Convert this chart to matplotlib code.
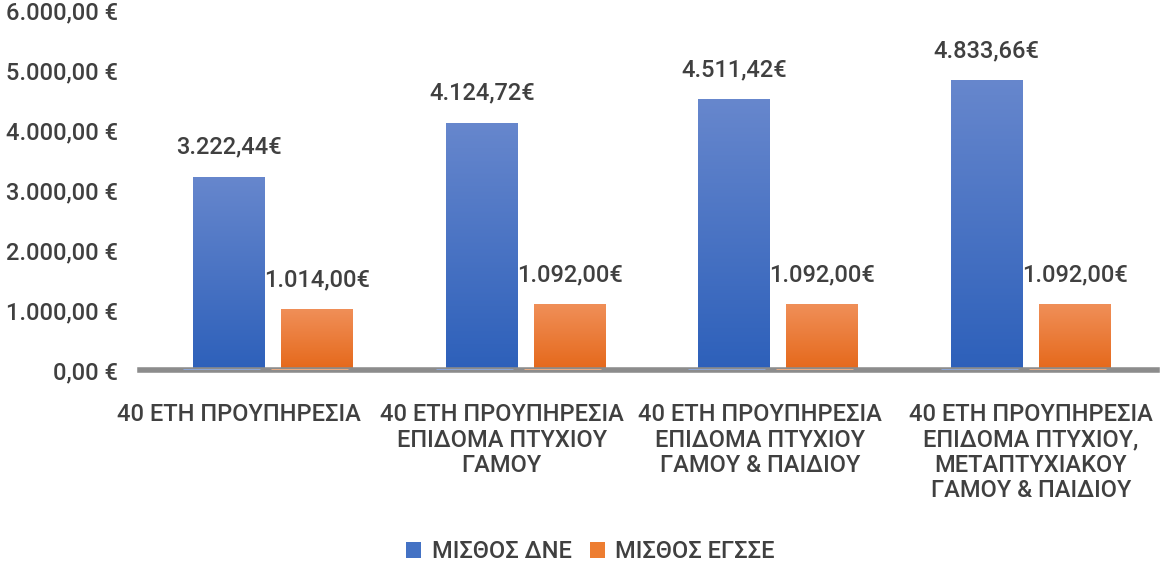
import matplotlib
matplotlib.use("Agg")
import matplotlib.pyplot as plt
import matplotlib.transforms as mtransforms
import numpy as np
from matplotlib.colors import LinearSegmentedColormap

categories = [
    "40 ΕΤΗ ΠΡΟΥΠΗΡΕΣΙΑ",
    "40 ΕΤΗ ΠΡΟΥΠΗΡΕΣΙΑ\nΕΠΙΔΟΜΑ ΠΤΥΧΙΟΥ\nΓΑΜΟΥ",
    "40 ΕΤΗ ΠΡΟΥΠΗΡΕΣΙΑ\nΕΠΙΔΟΜΑ ΠΤΥΧΙΟΥ\nΓΑΜΟΥ & ΠΑΙΔΙΟΥ",
    "40 ΕΤΗ ΠΡΟΥΠΗΡΕΣΙΑ\nΕΠΙΔΟΜΑ ΠΤΥΧΙΟΥ,\nΜΕΤΑΠΤΥΧΙΑΚΟΥ\nΓΑΜΟΥ & ΠΑΙΔΙΟΥ",
]
dne = [3222.44, 4124.72, 4511.42, 4833.66]
egsse = [1014.00, 1092.00, 1092.00, 1092.00]
series_names = ["ΜΙΣΘΟΣ ΔΝΕ", "ΜΙΣΘΟΣ ΕΓΣΣΕ"]
yticks = [0, 1000, 2000, 3000, 4000, 5000, 6000]


def eur(v, space=True):
    s = f"{v:,.2f}".replace(",", "X").replace(".", ",").replace("X", ".")
    return s + (" €" if space else "€")


plt.rcParams['font.family'] = ['Roboto', 'Liberation Sans', 'DejaVu Sans']
plt.rcParams['font.weight'] = 500
txt = '#404040'
FS = 17

fig = plt.figure(figsize=(11.61, 5.65), dpi=100)
ax = fig.add_axes([147 / 1161, 1 - 370 / 565, 1010 / 1161, 360 / 565])

x = np.arange(len(categories))
w = 0.285
off = 0.174

blue_cmap = LinearSegmentedColormap.from_list('b', ['#2d60ba', '#6787cd'])
orange_cmap = LinearSegmentedColormap.from_list('o', ['#e5681a', '#f08f58'])

b1 = ax.bar(x - off, dne, w, color='#4472c4', label=series_names[0], zorder=2)
b2 = ax.bar(x + off, egsse, w, color='#ed7d31', label=series_names[1], zorder=2)

grad = np.linspace(0, 1, 256).reshape(-1, 1)
for bars, cm in ((b1, blue_cmap), (b2, orange_cmap)):
    for p in bars:
        x0, y0 = p.get_x(), p.get_y()
        im = ax.imshow(grad, extent=[x0, x0 + p.get_width(), y0, y0 + p.get_height()],
                       origin='lower', aspect='auto', cmap=cm, zorder=3)
        im.set_clip_path(p)

for bars, vals in ((b1, dne), (b2, egsse)):
    for p, v in zip(bars, vals):
        ax.annotate(eur(v, space=False), (p.get_x() + p.get_width() / 2, v),
                    xytext=(0, 13), textcoords='offset points', ha='center', va='bottom',
                    fontsize=FS, color=txt, zorder=5)

ax.set_xlim(-0.5, len(categories) - 0.5)
ax.set_ylim(0, 6000)
ax.set_yticks(yticks)
ax.set_yticklabels([eur(v) for v in yticks], fontsize=FS, color=txt)
ax.set_xticks(x)
ax.set_xticklabels(categories, fontsize=FS, color=txt, linespacing=1.13)
ax.tick_params(axis='both', length=0)
ax.tick_params(axis='y', pad=21)
ax.tick_params(axis='x', pad=24)
# perspective-like horizontal offsets of the category labels (pixels)
label_shift_px = [-34, -24, -18, 0]
for lbl, dx in zip(ax.get_xticklabels(), label_shift_px):
    lbl.set_transform(lbl.get_transform() +
                      mtransforms.ScaledTranslation(dx / 100, 0, fig.dpi_scale_trans))
for s in ax.spines.values():
    s.set_visible(False)

# floor line
ax.axhline(0, color='#8c8c8c', lw=4, zorder=4, xmin=-0.007, clip_on=False)
for bars, c in ((b1, '#8eaadc'), (b2, '#f4b183')):
    for p in bars:
        ax.plot([p.get_x() - 0.04, p.get_x() + p.get_width() - 0.02], [0, 0],
                color=c, lw=2, zorder=5, solid_capstyle='butt')

leg = fig.legend(handles=[b1, b2], labels=series_names, loc='center',
                 bbox_to_anchor=(0.5086, 1 - 552 / 565), ncol=2, frameon=False,
                 fontsize=FS, handlelength=0.65, handleheight=0.65, columnspacing=0.75,
                 handletextpad=0.45)
for t in leg.get_texts():
    t.set_color(txt)

fig.savefig('out.png', dpi=100)
